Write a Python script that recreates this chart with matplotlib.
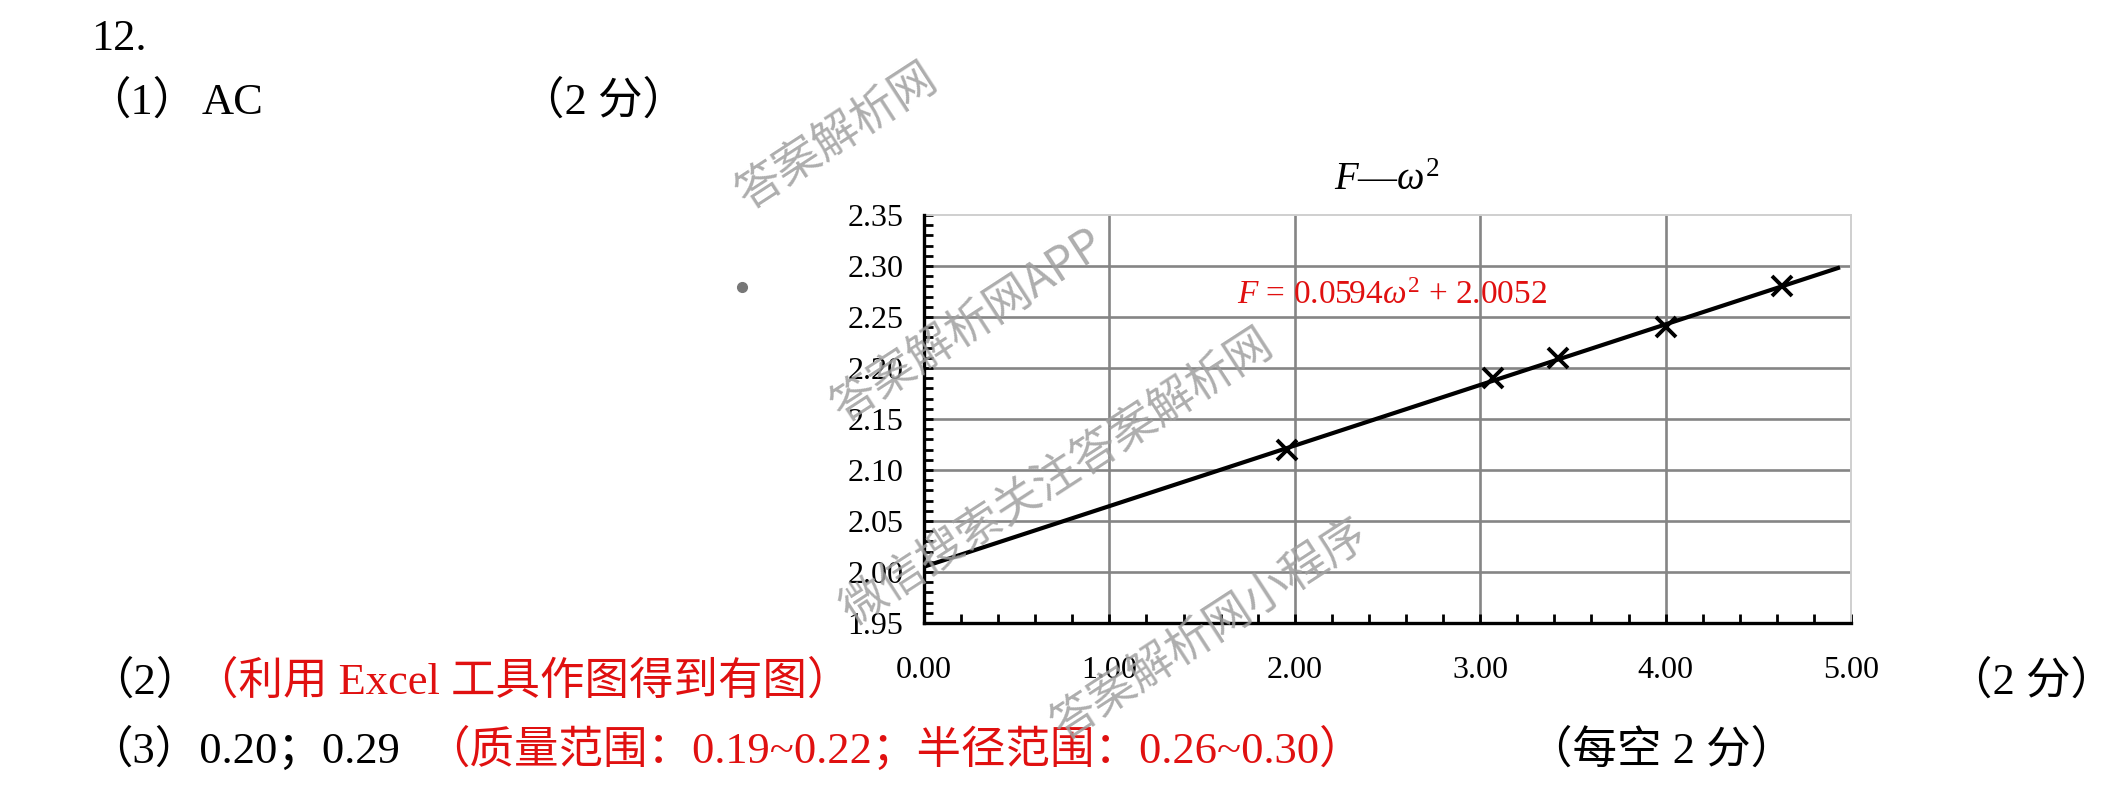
import matplotlib
matplotlib.use("Agg")
import matplotlib.pyplot as plt
from matplotlib.lines import Line2D
from matplotlib.ticker import FixedLocator, MultipleLocator

# data
omega_sq = [1.96, 3.07, 3.42, 4.00, 4.63]
force = [2.12, 2.19, 2.21, 2.24, 2.28]
fit_slope = 0.0594
fit_intercept = 2.0052
fit_x = [0.0, 4.93]

x_ticks = [0.0, 1.0, 2.0, 3.0, 4.0, 5.0]
y_ticks = [1.95, 2.00, 2.05, 2.10, 2.15, 2.20, 2.25, 2.30, 2.35]

title = r"$F$—$\omega^{2}$"
eq_label = r"$F$ = 0.0594$\omega^{2}$ + 2.0052"

red = "#e01010"

plt.rcParams["font.family"] = ["Liberation Serif", "Noto Sans CJK SC"]
plt.rcParams["mathtext.fontset"] = "custom"
plt.rcParams["mathtext.rm"] = "Liberation Serif"
plt.rcParams["mathtext.it"] = "Liberation Serif:italic"
plt.rcParams["mathtext.bf"] = "Liberation Serif:bold"

W, H = 2122, 793
fig = plt.figure(figsize=(W / 100, H / 100), dpi=100)


def fx(x):
    return x / W


def fy(y):
    return 1 - y / H


# the chart itself (pixel box)
ax = fig.add_axes([fx(924), fy(623), (1851 - 924) / W, (623 - 215) / H])
ax.set_xlim(x_ticks[0], x_ticks[-1])
ax.set_ylim(y_ticks[0], y_ticks[-1])

for g in x_ticks[1:-1]:
    ax.axvline(g, color="#858585", lw=1.9, zorder=1)
for g in y_ticks[1:-1]:
    ax.axhline(g, color="#858585", lw=1.9, zorder=1)

fit_y = [fit_slope * x + fit_intercept for x in fit_x]
ax.plot(fit_x, fit_y, color="black", lw=3.0, zorder=3)
ax.plot(omega_sq, force, ls="none", marker="x", ms=14, mew=2.8, color="black", zorder=4)

ax.xaxis.set_major_locator(FixedLocator(x_ticks))
ax.yaxis.set_major_locator(FixedLocator(y_ticks))
ax.xaxis.set_minor_locator(MultipleLocator(0.2))
ax.yaxis.set_minor_locator(MultipleLocator(0.01))
ax.set_xticklabels(["%.2f" % v for v in x_ticks], fontsize=23)
ax.set_yticklabels(["%.2f" % v for v in y_ticks], fontsize=23)
ax.tick_params(which="both", direction="in", length=6.5, width=2, color="black")
ax.tick_params(axis="x", pad=24)
ax.tick_params(axis="y", pad=15)

for s in ["left", "bottom"]:
    ax.spines[s].set_linewidth(2.4)
    ax.spines[s].set_color("black")
    ax.spines[s].set_zorder(5)
for s in ["top", "right"]:
    ax.spines[s].set_linewidth(1.4)
    ax.spines[s].set_color("#cfcfcf")

ax.set_title(title, fontsize=28, pad=18)
ax.text(2.524, 2.2627, eq_label, color=red, fontsize=24, ha="center", va="baseline", zorder=6)

# answer text around the chart
fs = 32
fig.text(fx(91), fy(50), "12.", fontsize=fs, va="baseline")
fig.text(fx(86), fy(114), "（1）", fontsize=fs, va="baseline")
fig.text(fx(202), fy(114), "AC", fontsize=fs, va="baseline")
fig.text(fx(520), fy(114), "（2 分）", fontsize=fs, va="baseline")
fig.text(fx(89), fy(694), "（2）", fontsize=fs, va="baseline")
fig.text(fx(194), fy(694), "（利用 Excel 工具作图得到有图）", fontsize=fs, va="baseline", color=red)
fig.text(fx(1948), fy(694), "（2 分）", fontsize=fs, va="baseline")
fig.text(fx(88), fy(763), "（3）0.20；0.29", fontsize=fs, va="baseline")
fig.text(fx(425), fy(763), "（质量范围：0.19~0.22；半径范围：0.26~0.30）", fontsize=fs, va="baseline", color=red)
fig.text(fx(1528), fy(763), "（每空 2 分）", fontsize=fs, va="baseline")

# stray dot left of the chart
fig.add_artist(Line2D([fx(742)], [fy(287)], marker="o", ms=7, color="#777777",
                      ls="none", transform=fig.transFigure))

# watermarks
marks = [
    ("答案解析网", 837, 137),
    ("答案解析网APP", 968, 327),
    ("微信搜索关注答案解析网", 1057, 478),
    ("答案解析网小程序", 1210, 630),
]
for txt, x, y in marks:
    fig.text(fx(x), fy(y), txt, fontsize=33, family="Noto Sans CJK SC", color="#a0a0a0",
             alpha=0.85, rotation=33, rotation_mode="anchor", ha="center", va="center", zorder=10)

fig.savefig("out.png", dpi=100)
